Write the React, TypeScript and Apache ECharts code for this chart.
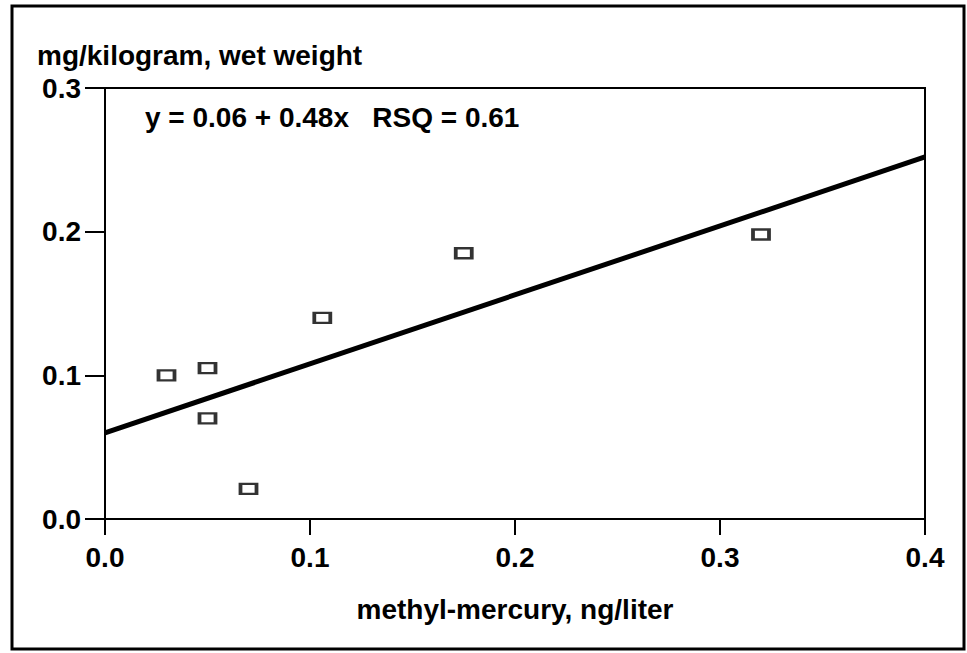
import React, { useEffect, useRef } from "react";
import * as echarts from "echarts";

// Methyl-mercury in water (ng/liter) vs. tissue mercury (mg/kg wet weight)
const methylMercury = [0.03, 0.05, 0.05, 0.07, 0.106, 0.175, 0.32];
const tissueMercury = [0.1, 0.105, 0.07, 0.021, 0.14, 0.185, 0.198];

// Least-squares fit: y = 0.06 + 0.48x, drawn across the x range
const fitX = [0, 0.4];
const fitY = [0.06, 0.252];

const xTicks = [0, 0.1, 0.2, 0.3, 0.4];
const yTicks = [0, 0.1, 0.2, 0.3];

const FONT = "'Liberation Sans', Arial, Helvetica, sans-serif";

export default function App() {
  const ref = useRef<HTMLDivElement>(null);

  useEffect(() => {
    if (!ref.current) return;
    const chart = echarts.init(ref.current, undefined, { renderer: "svg" });

    chart.setOption({
      animation: false,
      backgroundColor: "#fff",
      textStyle: { fontFamily: FONT },
      grid: {
        left: 105,
        right: 42,
        top: 88,
        bottom: 134,
        show: true,
        borderColor: "#000",
        borderWidth: 2,
        backgroundColor: "transparent",
      },
      xAxis: {
        type: "value",
        min: xTicks[0],
        max: xTicks[xTicks.length - 1],
        interval: 0.1,
        name: "methyl-mercury, ng/liter",
        nameLocation: "middle",
        nameGap: 76,
        nameTextStyle: { fontSize: 28, fontWeight: "bold", color: "#000", fontFamily: FONT },
        axisLine: { show: true, onZero: false, lineStyle: { color: "#000", width: 2 } },
        axisTick: { show: true, length: 16, lineStyle: { color: "#000", width: 2 } },
        axisLabel: {
          color: "#000",
          fontSize: 28,
          fontWeight: "bold",
          fontFamily: FONT,
          margin: 24,
          formatter: (v: number) => v.toFixed(1),
        },
        splitLine: { show: false },
      },
      yAxis: {
        type: "value",
        min: yTicks[0],
        max: yTicks[yTicks.length - 1],
        interval: 0.1,
        axisLine: { show: true, onZero: false, lineStyle: { color: "#000", width: 2 } },
        axisTick: { show: true, length: 20, lineStyle: { color: "#000", width: 2 } },
        axisLabel: {
          color: "#000",
          fontSize: 28,
          fontWeight: "bold",
          fontFamily: FONT,
          margin: 24,
          formatter: (v: number) => v.toFixed(1),
        },
        splitLine: { show: false },
      },
      graphic: [
        {
          type: "rect",
          shape: { x: 12, y: 6, width: 952, height: 643 },
          style: { fill: "none", stroke: "#000", lineWidth: 3 },
          silent: true,
        },
        {
          type: "text",
          x: 37,
          y: 55,
          style: {
            text: "mg/kilogram, wet weight",
            font: `bold 28px ${FONT}`,
            fill: "#000",
            verticalAlign: "middle",
            align: "left",
          },
        },
        {
          type: "text",
          x: 145,
          y: 117,
          style: {
            text: "y = 0.06 + 0.48x   RSQ = 0.61",
            font: `bold 28px ${FONT}`,
            fill: "#000",
            verticalAlign: "middle",
            align: "left",
          },
        },
      ],
      series: [
        {
          type: "line",
          data: fitX.map((x, i) => [x, fitY[i]]),
          symbol: "none",
          lineStyle: { color: "#000", width: 5 },
          z: 2,
        },
        {
          type: "scatter",
          data: methylMercury.map((x, i) => [x, tissueMercury[i]]),
          symbol: "rect",
          symbolSize: [16, 10],
          itemStyle: { color: "#fff", borderColor: "#000", borderWidth: 3 },
          z: 3,
        },
      ],
    });

    return () => chart.dispose();
  }, []);

  return (
    <div
      ref={ref}
      style={{ position: "fixed", left: 0, top: 0, width: 967, height: 653 }}
    />
  );
}
